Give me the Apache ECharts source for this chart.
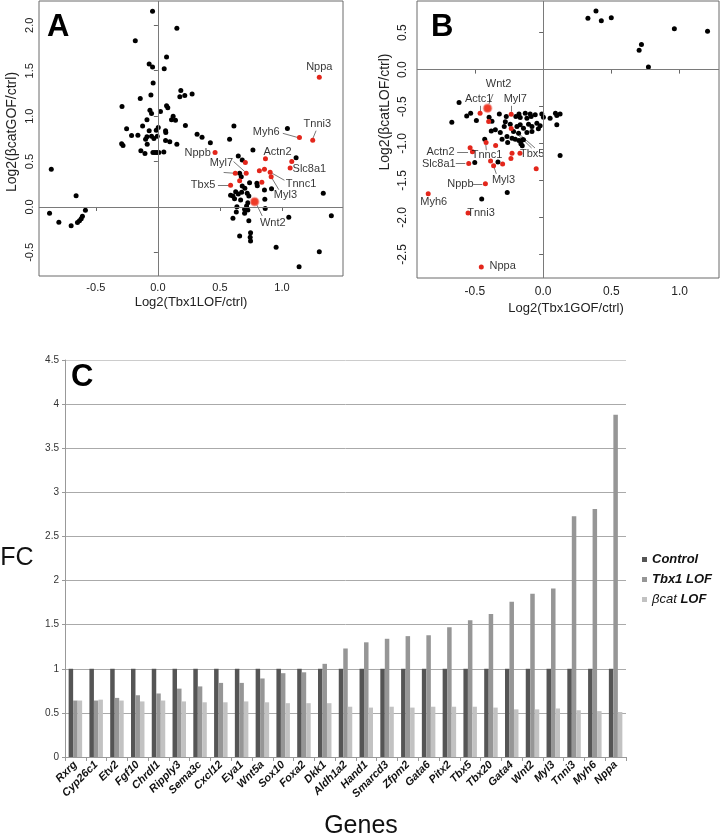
<!DOCTYPE html>
<html><head><meta charset="utf-8">
<script src="https://cdn.jsdelivr.net/npm/echarts@6/dist/echarts.min.js"></script>
<style>html,body{margin:0;padding:0;background:#fff}#c{width:721px;height:839px}</style>
</head><body><div id="c"></div>
<script>
const FONT = '"Liberation Sans", Arial, Helvetica, sans-serif';

// ---------- Panel A: Log2(Tbx1LOF/ctrl) vs Log2(βcatGOF/ctrl)
const aBlack = [
[-0.043,2.154],[0.153,1.967],[-0.182,1.831],[0.07,1.651],[-0.07,1.574],[-0.043,1.54],[0.051,1.522],[-0.038,1.364],[0.185,1.283],[0.276,1.243],[0.217,1.228],[0.177,1.213],[-0.142,1.195],[-0.056,1.232],[-0.289,1.107],[0.07,1.114],[0.08,1.092],[-0.064,1.066],[-0.051,1.03],[0.021,1.051],[0.123,1.0],[0.11,0.96],[0.142,0.956],[-0.088,0.96],[-0.123,0.893],[0.003,0.875],[-0.252,0.86],[0.222,0.897],[0.062,0.838],[0.064,0.82],[-0.013,0.846],[-0.07,0.838],[-0.161,0.79],[-0.212,0.787],[-0.088,0.772],[-0.051,0.779],[-0.005,0.779],[-0.032,0.754],[-0.099,0.746],[-0.086,0.691],[0.062,0.732],[0.096,0.717],[0.153,0.691],[-0.292,0.695],[-0.281,0.676],[-0.137,0.62],[-0.104,0.59],[-0.04,0.6],[-0.024,0.6],[-0.008,0.6],[0.008,0.6],[0.048,0.606],
[0.316,0.80],[0.356,0.767],[0.423,0.708],[0.578,0.745],[0.613,0.893],[1.044,0.864],[0.766,0.628],[0.648,0.562],[0.68,0.518],[1.114,0.543],[0.659,0.371],[0.672,0.334],[0.739,0.268],[0.798,0.261],[0.801,0.235],[0.916,0.202],[0.859,0.187],[0.68,0.231],[0.701,0.206],[0.675,0.162],[0.627,0.169],[0.586,0.129],[0.605,0.121],[0.648,0.143],[0.618,0.091],[0.667,0.077],[0.72,0.151],[0.733,0.121],[0.725,0.047],[0.862,0.085],[0.637,0.003],[0.715,0.011],[0.699,-0.025],[0.725,-0.033],[0.865,-0.018],[0.632,-0.055],[0.699,-0.07],[0.605,-0.125],[0.733,-0.151],[1.055,-0.114],[1.398,-0.096],[1.333,0.151],[0.659,-0.319],[0.747,-0.283],[0.744,-0.334],[0.747,-0.374],[0.953,-0.444],[1.301,-0.492],[1.138,-0.658],
[-0.859,0.415],[-0.659,0.125],[-0.873,-0.07],[-0.798,-0.169],[-0.699,-0.206],[-0.648,-0.172],[-0.632,-0.151],[-0.618,-0.129],[-0.608,-0.103],[-0.584,-0.037]
];
const aRed = [[1.301,1.428],[1.248,0.736],[1.141,0.765],[0.867,0.53],[1.079,0.5],[1.066,0.428],[0.461,0.6],[0.705,0.49],[0.624,0.371],[0.712,0.371],[0.659,0.288],[0.818,0.398],[0.859,0.415],[0.905,0.382],[0.913,0.334],[0.838,0.272],[0.586,0.239]];
const aWnt2 = [[0.78,0.058]];
const aLabelNames = ['Nppa','Tnni3','Myh6','Actn2','Nppb','Myl7','Slc8a1','Tbx5','Tnnc1','Myl3','Wnt2'];
const aLabelPos = [[1.301,1.545],[1.285,0.914],[0.873,0.823],[0.964,0.606],[0.321,0.598],[0.512,0.481],[1.221,0.419],[0.364,0.242],[1.154,0.253],[1.028,0.132],[0.926,-0.173]];
const aLeaders = [[[1.007,0.811],[1.122,0.767]],[[1.275,0.84],[1.25,0.757]],[[0.61,0.50],[0.70,0.39]],[[0.53,0.38],[0.61,0.372]],[[0.484,0.239],[0.568,0.239]],[[1.02,0.294],[0.922,0.37]],[[0.975,0.19],[0.918,0.32]],[[0.841,-0.099],[0.795,0.03]]];
const aXTicks = [-0.5,0,0.5,1];
const aYTicks = [-0.5,0,0.5,1,1.5,2];

// ---------- Panel B: Log2(Tbx1GOF/ctrl) vs Log2(βcatLOF/ctrl)
const bBlack = [
[0.328,0.695],[0.387,0.793],[0.426,0.662],[0.499,0.703],[0.961,0.554],[1.204,0.519],[0.72,0.338],[0.703,0.262],[0.771,0.036],
[-0.616,-0.446],[-0.669,-0.711],[-0.56,-0.626],[-0.531,-0.589],[-0.489,-0.689],[-0.396,-0.643],[-0.375,-0.70],[-0.38,-0.83],[-0.35,-0.815],[-0.321,-0.599],[-0.27,-0.635],[-0.314,-0.851],[-0.277,-0.707],[-0.241,-0.738],[-0.285,-0.770],[-0.2,-0.635],[-0.177,-0.599],[-0.168,-0.649],[-0.131,-0.589],[-0.119,-0.657],[-0.095,-0.599],[-0.088,-0.635],[-0.058,-0.612],[-0.01,-0.599],[0.002,-0.644],[0.051,-0.657],[0.09,-0.589],[0.1,-0.621],[0.124,-0.6],[0.1,-0.747],[0.124,-1.162],[-0.192,-0.770],[-0.168,-0.747],[-0.144,-0.792],[-0.107,-0.738],[-0.082,-0.77],[-0.046,-0.724],[-0.022,-0.761],[-0.035,-0.8],[-0.217,-0.838],[-0.18,-0.86],[-0.119,-0.851],[-0.082,-0.838],[-0.265,-0.905],[-0.228,-0.927],[-0.204,-0.941],[-0.177,-0.959],[-0.301,-0.941],[-0.163,-1.004],[-0.144,-0.95],[-0.153,-1.031],[-0.26,-0.986],[-0.428,-0.941],[-0.501,-1.257],[-0.331,-1.251],[-0.263,-1.662],[-0.45,-1.751],[-0.15,-0.95]
];
const bRed = [[-0.462,-0.589],[-0.234,-0.603],[-0.399,-0.703],[-0.234,-0.797],[-0.418,-0.986],[-0.348,-1.027],[-0.535,-1.058],[-0.518,-1.112],[-0.545,-1.27],[-0.385,-1.238],[-0.363,-1.301],[-0.297,-1.278],[-0.228,-1.13],[-0.236,-1.203],[-0.17,-1.13],[-0.051,-1.342],[-0.423,-1.545],[-0.842,-1.68],[-0.55,-1.941],[-0.453,-2.67]];
const bWnt2 = [[-0.407,-0.522]];
const bLabelNames = ['Wnt2','Actc1','Myl7','Actn2','Tnnc1','Tbx5','Slc8a1','Myl3','Nppb','Myh6','Tnni3','Nppa'];
const bLabelPos = [[-0.326,-0.193],[-0.472,-0.396],[-0.204,-0.4],[-0.752,-1.112],[-0.411,-1.157],[-0.08,-1.139],[-0.764,-1.274],[-0.29,-1.491],[-0.606,-1.545],[-0.801,-1.792],[-0.455,-1.946],[-0.297,-2.662]];
const bLeaders = [[[-0.367,-0.33],[-0.398,-0.47]],[[-0.462,-0.49],[-0.462,-0.56]],[[-0.234,-0.49],[-0.234,-0.57]],[[-0.63,-1.112],[-0.55,-1.112]],[[-0.64,-1.27],[-0.57,-1.27]],[[-0.416,-1.09],[-0.42,-1.02]],[[-0.085,-1.06],[-0.23,-0.80]],[[-0.06,-1.06],[-0.17,-0.88]],[[-0.343,-1.41],[-0.36,-1.32]],[[-0.513,-1.545],[-0.445,-1.545]]];
const bXTicks = [-0.5,0,0.5,1];
const bYTicks = [-2.5,-2,-1.5,-1,-0.5,0,0.5];

// ---------- Panel C: fold change bars
const genes = ['Rxrg','Cyp26c1','Etv2','Fgf10','Chrdl1','Ripply3','Sema3c','Cxcl12','Eya1','Wnt5a','Sox10','Foxa2','Dkk1','Aldh1a2','Hand1','Smarcd3','Zfpm2','Gata6','Pitx2','Tbx5','Tbx20','Gata4','Wnt2','Myl3','Tnni3','Myh6','Nppa'];
const control = [1,1,1,1,1,1,1,1,1,1,1,1,1,1,1,1,1,1,1,1,1,1,1,1,1,1,1];
const tbx1LOF = [0.64,0.64,0.67,0.70,0.72,0.775,0.80,0.84,0.84,0.89,0.95,0.96,1.056,1.23,1.30,1.34,1.37,1.38,1.47,1.55,1.62,1.76,1.85,1.91,2.73,2.81,3.88];
const bcatLOF = [0.64,0.65,0.64,0.63,0.64,0.63,0.62,0.62,0.63,0.62,0.61,0.61,0.61,0.57,0.56,0.57,0.56,0.57,0.57,0.57,0.56,0.54,0.54,0.55,0.53,0.52,0.51];
const seriesNames = ['Control','Tbx1 LOF','βcat LOF'];

const pair = (n, p) => n.map((name, i) => ({name, value: p[i]}));

function scatterAxes(idx, xmin, xmax, ymin, ymax, xt, yt, fs, xm, ym) {
  const tick = {show: true, length: 4, lineStyle: {color: '#666', width: 1}};
  return [{
    type: 'value', gridIndex: idx, min: xmin, max: xmax,
    axisLine: {show: false}, splitLine: {show: false},
    axisTick: Object.assign({customValues: xt}, tick),
    axisLabel: {customValues: xt, formatter: v => v.toFixed(1), color: '#222', fontSize: fs, fontFamily: FONT, margin: xm}
  }, {
    type: 'value', gridIndex: idx, min: ymin, max: ymax,
    axisLine: {show: false}, splitLine: {show: false},
    axisTick: Object.assign({customValues: yt}, tick),
    axisLabel: {customValues: yt, formatter: v => v.toFixed(1), rotate: 90, color: '#222', fontSize: fs, fontFamily: FONT, margin: ym}
  }];
}
const axA = scatterAxes(0, -0.958, 1.492, -0.76, 2.268, aXTicks, aYTicks, 11, 6, 4);
const axB = scatterAxes(1, -0.924, 1.288, -2.819, 0.928, bXTicks, bYTicks, 12, 8, 8);

function scatterSeries(i, black, red, wnt2, names, pos, leaders) {
  const base = {xAxisIndex: i, yAxisIndex: i, silent: true};
  return [
    Object.assign({type: 'scatter', data: black, symbolSize: 5, itemStyle: {color: '#000', opacity: 1},
      markLine: {silent: true, symbol: ['none','none'], label: {show: false},
        lineStyle: {color: '#7a7a7a', width: 1, type: 'solid'}, data: [{xAxis: 0}, {yAxis: 0}]}}, base),
    Object.assign({type: 'lines', coordinateSystem: 'cartesian2d', data: leaders.map(c => ({coords: c})),
      lineStyle: {color: '#555', width: 0.8, opacity: 1}}, base),
    Object.assign({type: 'scatter', data: red, symbolSize: 5, itemStyle: {color: '#e3261b', opacity: 1}}, base),
    Object.assign({type: 'scatter', data: wnt2, symbolSize: 8, itemStyle: {color: '#ef3a26', opacity: 1, borderColor: 'rgba(240,120,110,0.45)', borderWidth: 2}}, base),
    Object.assign({type: 'scatter', data: pair(names, pos), symbolSize: 1, itemStyle: {color: 'rgba(0,0,0,0)'},
      label: {show: true, position: 'inside', formatter: '{b}', color: '#000', fontSize: 11, fontFamily: FONT}}, base)
  ];
}

const chart = echarts.init(document.getElementById('c'), null, {renderer: 'canvas'});
const legendRich = {
  b: {fontWeight: 'bold', fontStyle: 'italic', fontSize: 13, fontFamily: FONT, color: '#111'},
  n: {fontWeight: 'normal', fontStyle: 'italic', fontSize: 13, fontFamily: FONT, color: '#111'}
};
const barColors = ['#555555', '#969696', '#c2c2c2'];
const splitColors = ['#aaaaaa','#aaaaaa','#aaaaaa','#aaaaaa','#aaaaaa','#aaaaaa','#aaaaaa','#aaaaaa','#aaaaaa','#cccccc'];

chart.setOption({
  animation: false,
  backgroundColor: '#fff',
  textStyle: {fontFamily: FONT},
  grid: [
    {left: 39, top: 1, width: 304, height: 275, show: true, borderColor: '#6a6a6a', borderWidth: 1, backgroundColor: 'transparent'},
    {left: 417, top: 1, width: 302, height: 277, show: true, borderColor: '#6a6a6a', borderWidth: 1, backgroundColor: 'transparent'},
    {left: 65, top: 360, width: 561, height: 397}
  ],
  xAxis: [axA[0], axB[0], {
    type: 'category', gridIndex: 2, data: genes,
    axisLine: {show: true, lineStyle: {color: '#999'}},
    axisTick: {show: true, interval: 0, length: 4, lineStyle: {color: '#999'}},
    axisLabel: {interval: 0, rotate: 45, fontStyle: 'italic', fontWeight: 'bold', fontSize: 11, color: '#111', fontFamily: FONT, margin: 6},
    splitLine: {show: false}
  }],
  yAxis: [axA[1], axB[1], {
    type: 'value', gridIndex: 2, min: 0, max: 4.5, interval: 0.5,
    axisLine: {show: true, lineStyle: {color: '#999'}},
    axisTick: {show: true, length: 3, lineStyle: {color: '#999'}},
    axisLabel: {color: '#333', fontSize: 10, fontFamily: FONT, margin: 6},
    splitLine: {show: true, lineStyle: {color: splitColors, width: 1}}
  }],
  legend: {
    data: seriesNames, orient: 'vertical', left: 642, top: 553, itemWidth: 5, itemHeight: 5, itemGap: 7,
    icon: 'rect', padding: 0, selectedMode: false,
    formatter: n => n === 'βcat LOF' ? '{n|βcat} {b|LOF}' : '{b|' + n + '}',
    textStyle: {rich: legendRich, fontSize: 13}
  },
  series: [].concat(
    scatterSeries(0, aBlack, aRed, aWnt2, aLabelNames, aLabelPos, aLeaders),
    scatterSeries(1, bBlack, bRed, bWnt2, bLabelNames, bLabelPos, bLeaders),
    [control, tbx1LOF, bcatLOF].map((d, i) => ({
      type: 'bar', name: seriesNames[i], xAxisIndex: 2, yAxisIndex: 2, data: d,
      barWidth: 4.5, barGap: '0%', itemStyle: {color: barColors[i]}, silent: true
    }))
  ),
  graphic: [
    {type: 'text', left: 47, top: 12, style: {text: 'A', font: 'bold 31px ' + FONT, fill: '#000'}},
    {type: 'text', left: 431, top: 12, style: {text: 'B', font: 'bold 31px ' + FONT, fill: '#000'}},
    {type: 'text', left: 71, top: 362, style: {text: 'C', font: 'bold 31px ' + FONT, fill: '#000'}},
    {type: 'text', x: 191, y: 302, style: {text: 'Log2(Tbx1LOF/ctrl)', font: '13px ' + FONT, fill: '#222', align: 'center', verticalAlign: 'middle'}},
    {type: 'text', x: 12, y: 132, rotation: Math.PI / 2, style: {text: 'Log2(βcatGOF/ctrl)', font: '14px ' + FONT, fill: '#222', align: 'center', verticalAlign: 'middle'}},
    {type: 'text', x: 566, y: 308, style: {text: 'Log2(Tbx1GOF/ctrl)', font: '13px ' + FONT, fill: '#222', align: 'center', verticalAlign: 'middle'}},
    {type: 'text', x: 385, y: 112, rotation: Math.PI / 2, style: {text: 'Log2(βcatLOF/ctrl)', font: '14px ' + FONT, fill: '#222', align: 'center', verticalAlign: 'middle'}},
    {type: 'text', x: 17, y: 558, style: {text: 'FC', font: '25px ' + FONT, fill: '#111', align: 'center', verticalAlign: 'middle'}},
    {type: 'text', x: 361, y: 826, style: {text: 'Genes', font: '25px ' + FONT, fill: '#111', align: 'center', verticalAlign: 'middle'}}
  ]
});
</script>
</body></html>
